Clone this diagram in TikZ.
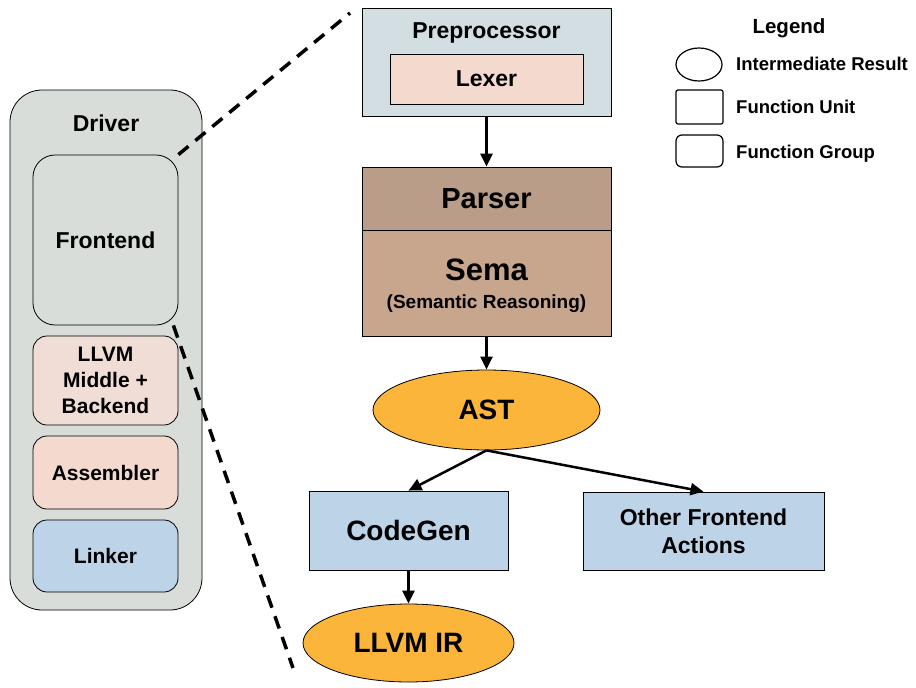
\documentclass[tikz,border=0pt]{standalone}
\usepackage{fontspec}
\setmainfont{Liberation Sans}
\usetikzlibrary{shapes.geometric,arrows.meta}

\definecolor{drivergrey}{HTML}{D8DDD9}
\definecolor{prebox}{HTML}{D3DEE2}
\definecolor{lexpink}{HTML}{F4D9CF}
\definecolor{midpink}{HTML}{EFDDD6}
\definecolor{unitblue}{HTML}{BDD3E8}
\definecolor{parsebrown}{HTML}{B99D88}
\definecolor{semabrown}{HTML}{C8A68E}
\definecolor{astorange}{HTML}{FBB53A}

\tikzset{
    txt/.style={font=\bfseries\fontsize{23}{28}\selectfont, inner sep=0pt, align=center},
    bigtxt/.style={font=\bfseries\fontsize{28}{33}\selectfont},
    smalltxt/.style={font=\bfseries\fontsize{21}{26}\selectfont},
    unit/.style={txt, draw, line width=0.8pt},
    group/.style={unit, smalltxt, rounded corners=14pt, minimum width=145pt},
    result/.style={txt, bigtxt, ellipse, draw, line width=0.8pt, fill=astorange},
    arr/.style={line width=2.5pt, -{Triangle[length=13pt,width=12pt]}},
    zoomline/.style={line width=3.5pt, dash pattern=on 13pt off 9pt},
    legtxt/.style={font=\bfseries\fontsize{18.5}{22}\selectfont, inner sep=0pt, anchor=base west},
}

\begin{document}
\begin{tikzpicture}[x=1pt, y=-1pt]
            \useasboundingbox (0,0) rectangle (916,688);
            % driver and its parts
            \node[group, fill=drivergrey, rounded corners=32pt, minimum width=192pt, minimum height=520pt] (driver) at (106,350) {};
            \node[txt] (drivertext) at (106,123) {Driver};
            \node[group, txt, fill=drivergrey, rounded corners=22pt, minimum height=170pt] (front) at (105.5,240) {Frontend};
            \node[group, fill=midpink, minimum height=89pt] (middle) at (105.5,380.5) {LLVM\\Middle +\\Backend};
            \node[group, fill=lexpink, minimum height=73pt] (asm) at (105.5,472.5) {Assembler};
            \node[group, fill=unitblue, minimum height=72pt] (link) at (105.5,556) {Linker};
            % frontend pipeline
            \node[unit, fill=prebox, minimum width=249pt, minimum height=108pt] (pre) at (486.5,62) {};
            \node[txt] (pretext) at (486.5,33) {Preprocessor};
            \node[unit, fill=lexpink, minimum width=193pt, minimum height=50pt] (lex) at (486.5,79) {Lexer};
            \node[unit, font=\bfseries\fontsize{29}{33}\selectfont, text depth=0pt, fill=parsebrown, minimum width=249pt, minimum height=63pt] (parse) at (486.5,198.5) {Parser};
            \node[unit, fill=semabrown, minimum width=249pt, minimum height=106pt] (sema) at (486.5,283) {};
            \node[txt, font=\bfseries\fontsize{31}{35}\selectfont] (sematext) at (486.5,270) {Sema};
            \node[txt, font=\bfseries\fontsize{19}{23}\selectfont] (semanote) at (486.5,304) {(Semantic Reasoning)};
            \node[result, minimum width=227pt, minimum height=80pt] (ast) at (486.5,410) {AST};
            \node[unit, bigtxt, fill=unitblue, minimum width=199pt, minimum height=79pt] (cg) at (408.5,530.5) {CodeGen};
            \node[unit, fill=unitblue, minimum width=241pt, minimum height=78pt] (other) at (703.5,531) {Other Frontend\\Actions};
            \node[result, minimum width=211pt, minimum height=78pt] (ir) at (408.5,643) {LLVM IR};
            \draw[arr] (pre) -- (parse);
            \draw[arr] (sema) -- (ast);
            \draw[arr] (ast.south) -- (cg.north);
            \draw[arr] (ast.south) -- (other.north);
            \draw[arr] (cg) -- (ir);
            % zoom lines
            \coordinate (zoomtop) at (350,13);
            \coordinate (zoombot) at (293,668);
            \draw[zoomline] (front.north east) -- (zoomtop);
            \draw[zoomline] ([xshift=-5pt]front.south east) -- (zoombot);
            % legend
            \node[txt, font=\bfseries\fontsize{20.5}{24}\selectfont] (legend) at (789,28) {Legend};
            \node[ellipse, draw, line width=1.2pt, minimum width=46pt, minimum height=33pt] (legres) at (699,64.5) {};
            \node[draw, line width=1.2pt, minimum width=47pt, minimum height=34pt, rounded corners=2pt] (legunit) at (699.5,107) {};
            \node[draw, line width=1.2pt, minimum width=47pt, minimum height=32pt, rounded corners=6pt] (leggroup) at (699.5,151) {};
            \node[legtxt] (legrestext) at (736,70.8) {Intermediate Result};
            \node[legtxt] (legunittext) at (736,113.8) {Function Unit};
            \node[legtxt] (leggrouptext) at (736,158.6) {Function Group};
        \end{tikzpicture}
\end{document}
